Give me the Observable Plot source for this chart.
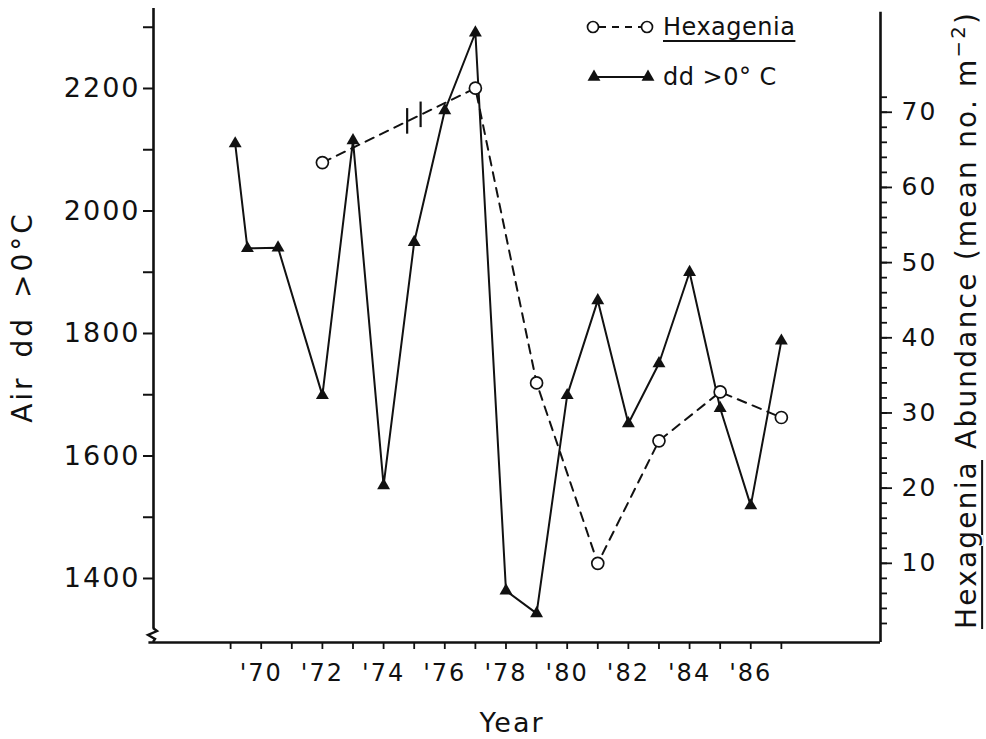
<!DOCTYPE html>
<html><head><meta charset="utf-8">
<script src="https://cdn.jsdelivr.net/npm/d3@7"></script>
<script src="https://cdn.jsdelivr.net/npm/@observablehq/plot@0.6"></script>
<style>
body{margin:0;background:#fff;}
#wrap{position:relative;width:986px;height:739px;font-family:"DejaVu Sans",sans-serif;color:#111;overflow:hidden;}
.lab{position:absolute;white-space:nowrap;line-height:1;}
</style></head><body><div id="wrap"></div>
<script>
// Air degree-days > 0°C (x = plotted year position)
const ddX      = [1969.15, 1969.55, 1970.55, 1972, 1973, 1974, 1975, 1976, 1977, 1978, 1979, 1980, 1981, 1982, 1983, 1984, 1985, 1986, 1987];
const ddValues = [2110, 1939, 1940, 1699, 2115, 1552, 1949, 2164, 2291, 1380, 1343, 1699, 1854, 1653, 1751, 1900, 1678, 1519, 1788];
// Hexagenia abundance (mean no. m^-2)
const hexYears  = [1972, 1977, 1979, 1981, 1983, 1985, 1987];
const hexValues = [63.3, 73.2, 34.0, 10.0, 26.3, 32.8, 29.4];
// break in the Hexagenia record
const hexBreaks = [1974.77, 1975.21];
// ticks
const ddTicks     = [1400, 1500, 1600, 1700, 1800, 1900, 2000, 2100, 2200, 2300];
const ddLabeled   = [1400, 1600, 1800, 2000, 2200];
const hexMinor    = [2,4,6,8,10,12,14,16,18,20,22,24,26,28,30,32,34,36,38,40,42,44,46,48,50,52,54,56,58,60,62,64,66,68,70,72];
const hexLabeled  = [10, 20, 30, 40, 50, 60, 70];
const yearTicks   = [1969,1970,1971,1972,1973,1974,1975,1976,1977,1978,1979,1980,1981,1982,1983,1984,1985,1986,1987];
const yearLabeled = [1970,1972,1974,1976,1978,1980,1982,1984,1986];

const xDom = [1966.48, 1990.24];
const yDom = [1295.5, 2330.6];      // left axis (dd)
const hDom = [-0.53, 83.8];         // right axis (Hexagenia), same pixel range
const hexToDD = h => yDom[0] + (h - hDom[0]) / (hDom[1] - hDom[0]) * (yDom[1] - yDom[0]);
const ddToHex = v => hDom[0] + (v - yDom[0]) / (yDom[1] - yDom[0]) * (hDom[1] - hDom[0]);

const dd  = ddX.map((x, i) => ({x, v: ddValues[i]}));
const hex = hexYears.map((x, i) => ({x, v: hexToDD(hexValues[i])}));
const interpHex = x => d3.scaleLinear().domain([hexYears[0], hexYears[1]]).range([hexValues[0], hexValues[1]])(x);
const breaks = hexBreaks.map(x => ({x, y1: hexToDD(interpHex(x) - 1.7), y2: hexToDD(interpHex(x) + 1.7)}));

const ink = "#111";
const chart = Plot.plot({
  width: 986, height: 739,
  marginLeft: 153, marginRight: 106, marginTop: 8, marginBottom: 97,
  x: {domain: xDom},
  y: {domain: yDom},
  style: {fontFamily: "DejaVu Sans", fontSize: "24px", color: ink, background: "white", letterSpacing: "2px"},
  marks: [
    Plot.ruleX([xDom[0]], {stroke: ink, strokeWidth: 2.6, y1: yDom[0] + 22, y2: yDom[1]}),
    Plot.ruleX([xDom[1]], {stroke: ink, strokeWidth: 2.6, y1: yDom[0], y2: hexToDD(83.3)}),
    Plot.ruleY([yDom[0]], {stroke: ink, strokeWidth: 2.6, x1: xDom[0] - 0.15, x2: xDom[1]}),
    Plot.axisY({ticks: ddTicks, anchor: "left", tickSize: 10, tickPadding: 3, strokeWidth: 2,
      tickFormat: d => ddLabeled.includes(d) ? String(d) : "", fontSize: 27, label: null}),
    Plot.axisY({ticks: hexMinor.map(hexToDD), anchor: "right", tickSize: 6, strokeWidth: 1.8,
      tickFormat: () => "", label: null}),
    Plot.axisY({ticks: hexLabeled.map(hexToDD), anchor: "right", tickSize: 11, tickPadding: 10, strokeWidth: 1.8,
      tickFormat: d => String(Math.round(ddToHex(d))), fontSize: 25, label: null}),
    Plot.axisX({ticks: yearTicks, tickSize: 7, tickPadding: 14, strokeWidth: 1.8,
      tickFormat: d => yearLabeled.includes(d) ? "'" + String(d).slice(2) : "", fontSize: 24, label: null}),
    Plot.line(hex, {x: "x", y: "v", stroke: ink, strokeWidth: 2, strokeDasharray: "9,7"}),
    Plot.ruleX(breaks, {x: "x", y1: "y1", y2: "y2", stroke: ink, strokeWidth: 2.2}),
    Plot.line(dd, {x: "x", y: "v", stroke: ink, strokeWidth: 2}),
    Plot.dot(dd, {x: "x", y: "v", symbol: "triangle", r: 4.8, fill: ink, stroke: "none"}),
    Plot.dot(hex, {x: "x", y: "v", symbol: "circle", r: 6, fill: "white", stroke: ink, strokeWidth: 1.7})
  ]
});

const wrap = document.getElementById("wrap");
wrap.appendChild(chart);

function addLabel(html, css) {
  const d = document.createElement("div");
  d.className = "lab";
  d.innerHTML = html;
  Object.assign(d.style, css);
  wrap.appendChild(d);
  return d;
}
// left axis title
addLabel("Air dd &gt;0°C", {left: "23px", top: "317px", fontSize: "28px", letterSpacing: "3px", wordSpacing: "6px",
  transform: "translate(-50%,-50%) rotate(-90deg)"});
// right axis title
addLabel('<span style="text-decoration:underline;text-underline-offset:5px;text-decoration-thickness:2px">Hexagenia</span> Abundance (mean no. m<sup style="font-size:0.7em;vertical-align:0.55em">−2</sup>)',
  {left: "965px", top: "320px", fontSize: "28px", letterSpacing: "2.2px",
  transform: "translate(-50%,-50%) rotate(-90deg)"});
// x title
addLabel("Year", {left: "512px", top: "722px", fontSize: "27px", letterSpacing: "2px", transform: "translate(-50%,-50%)"});

// legend
const lg = document.createElementNS("http://www.w3.org/2000/svg", "svg");
lg.setAttribute("width", "80"); lg.setAttribute("height", "100");
lg.style.position = "absolute"; lg.style.left = "583px"; lg.style.top = "10px";
lg.innerHTML = `
  <line x1="16" y1="17" x2="58" y2="17" stroke="${ink}" stroke-width="2" stroke-dasharray="7,6"/>
  <circle cx="10" cy="17" r="5.5" fill="white" stroke="${ink}" stroke-width="1.7"/>
  <circle cx="64" cy="17" r="5.5" fill="white" stroke="${ink}" stroke-width="1.7"/>
  <line x1="11" y1="67" x2="65" y2="67" stroke="${ink}" stroke-width="2"/>
  <path d="${d3.symbol(d3.symbolTriangle, Math.PI*4.8*4.8)()}" transform="translate(11,67)" fill="${ink}"/>
  <path d="${d3.symbol(d3.symbolTriangle, Math.PI*4.8*4.8)()}" transform="translate(65,67)" fill="${ink}"/>`;
wrap.appendChild(lg);
addLabel('<span style="text-decoration:underline;text-underline-offset:5px;text-decoration-thickness:2px">Hexagenia</span>',
  {left: "663px", top: "15px", fontSize: "24px", letterSpacing: "0.5px"});
addLabel("dd &gt;0° C", {left: "663px", top: "65px", fontSize: "24px", letterSpacing: "0.5px"});

// axis break mark
const br = document.createElementNS("http://www.w3.org/2000/svg", "svg");
br.setAttribute("width", "30"); br.setAttribute("height", "40");
br.style.position = "absolute"; br.style.left = "140px"; br.style.top = "610px";
br.innerHTML = `<path d="M13,18 L17,21 L8,25 L15,29 L13,32" fill="none" stroke="${ink}" stroke-width="2.4"/>`;
wrap.appendChild(br);
</script></body></html>
